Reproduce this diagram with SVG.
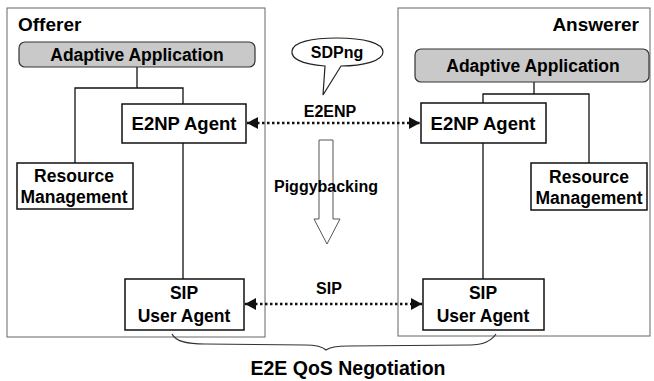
<svg xmlns="http://www.w3.org/2000/svg" width="654" height="381" viewBox="0 0 654 381">
<style>
text{font-family:"Liberation Sans",Arial,sans-serif;font-weight:bold;fill:#000;text-anchor:middle}
.cont{fill:none;stroke:#666;stroke-width:1}
.box{fill:#fff;stroke:#111;stroke-width:1.5}
.app{fill:#c9c9c9;stroke:#333;stroke-width:1.2}
.ln{fill:none;stroke:#111;stroke-width:1.3}
.dot{fill:none;stroke:#111;stroke-width:2.5;stroke-dasharray:2.5 2.5}
.t17{font-size:17.5px}
.t19{font-size:19px}
.t16{font-size:16px}
</style>
<defs>
<marker id="ah" markerUnits="userSpaceOnUse" markerWidth="12" markerHeight="12" refX="11" refY="6" orient="auto-start-reverse">
<path d="M0,0 L11,6 L0,12 Z" fill="#111"/>
</marker>
</defs>

<g id="offerer">
<rect class="cont" x="7" y="8" width="258" height="329"/>
<text class="t19" x="18" y="31" style="text-anchor:start">Offerer</text>
</g>
<g id="answerer">
<rect class="cont" x="398" y="8" width="252" height="328"/>
<text class="t19" x="639" y="31" style="text-anchor:end">Answerer</text>
</g>

<g id="connectors">
<path class="ln" d="M137,67 V88 M75,163 V88 H183 V104 M183,143 V279"/>
<path class="ln" d="M534,82 V94 M483,103 V94 H589 V163 M483,143 V279"/>
<line class="dot" x1="247" y1="123" x2="420" y2="123" marker-start="url(#ah)" marker-end="url(#ah)"/>
<line class="dot" x1="245" y1="304" x2="422" y2="304" marker-start="url(#ah)" marker-end="url(#ah)"/>
<path d="M172,334 C176,342 188,344 205,344 L305,345 C318,345 323,347 326,350 C330,347 336,346 348,346 L470,345 C484,345 492,340 496,334" fill="none" stroke="#333" stroke-width="1.2"/>
</g>

<g id="offerer-app">
<rect class="app" x="19" y="42" width="236" height="25" rx="6"/>
<text class="t17" x="137" y="61">Adaptive Application</text>
</g>
<g id="offerer-e2np">
<rect class="box" x="122" y="104" width="124" height="39"/>
<text class="t19" x="184" y="130" style="font-size:18.5px">E2NP Agent</text>
</g>
<g id="offerer-rm">
<rect class="box" x="17" y="163" width="116" height="46"/>
<text class="t17" x="74" y="182">Resource</text>
<text class="t17" x="74" y="203">Management</text>
</g>
<g id="offerer-sip">
<rect class="box" x="125" y="279" width="119" height="51"/>
<text class="t17" x="184" y="299">SIP</text>
<text class="t17" x="184" y="322">User Agent</text>
</g>

<g id="answerer-app">
<rect class="app" x="415" y="49" width="234" height="33" rx="6"/>
<text class="t17" x="533" y="72">Adaptive Application</text>
</g>
<g id="answerer-e2np">
<rect class="box" x="421" y="103" width="125" height="40"/>
<text class="t19" x="483" y="130" style="font-size:18.5px">E2NP Agent</text>
</g>
<g id="answerer-rm">
<rect class="box" x="531" y="163" width="116" height="47"/>
<text class="t17" x="589" y="183">Resource</text>
<text class="t17" x="589" y="204">Management</text>
</g>
<g id="answerer-sip">
<rect class="box" x="423" y="279" width="121" height="51"/>
<text class="t17" x="483" y="299">SIP</text>
<text class="t17" x="483" y="322">User Agent</text>
</g>

<g id="sdpng">
<path d="M325,66 C300,64 291,58 292,51 C293,42 312,38 337,38 C364,38 383,43 383,52 C383,61 363,66 341,66 L323,95 Z" fill="#fff" stroke="#222" stroke-width="1.2"/>
<text class="t16" x="337" y="58">SDPng</text>
</g>

<g id="piggyback">
<path d="M319,140 H333 V219 H340 L327,244 L314,219 H319 Z" fill="#fff" stroke="#555" stroke-width="1"/>
<text class="t16" x="326" y="192">Piggybacking</text>
</g>

<text class="t16" x="330" y="117">E2ENP</text>
<text class="t16" x="329" y="294">SIP</text>
<text x="348" y="375" style="font-size:19.5px">E2E QoS Negotiation</text>
</svg>
